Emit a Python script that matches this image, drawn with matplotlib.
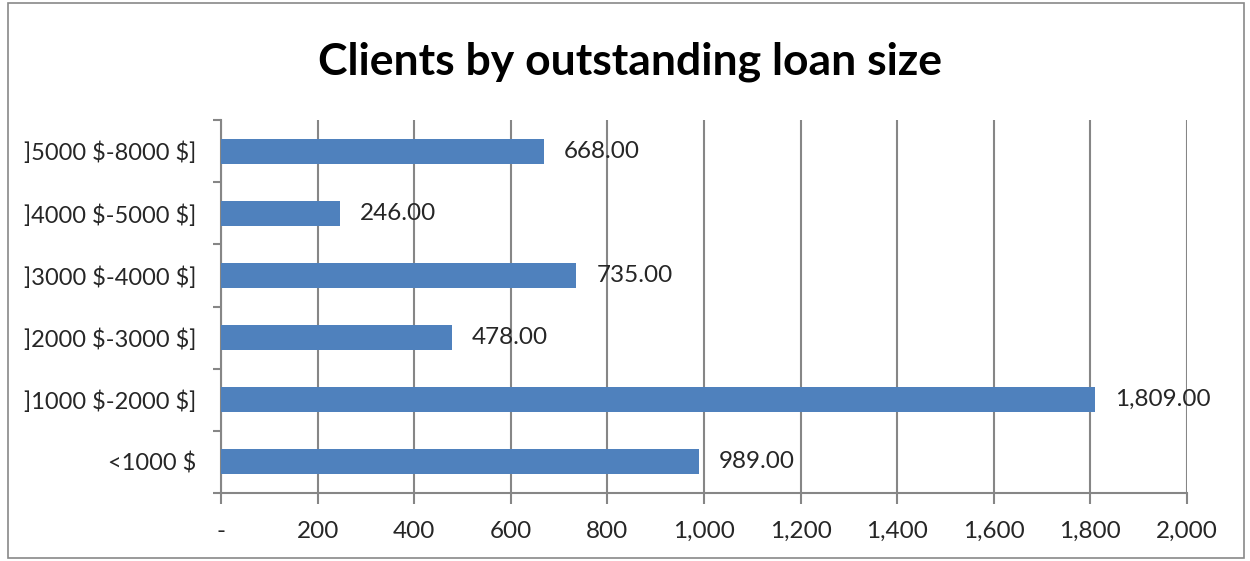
import matplotlib
matplotlib.use("Agg")
import matplotlib.pyplot as plt
from matplotlib.patches import Rectangle
import numpy as np

categories = ["<1000 $", "]1000 $-2000 $]", "]2000 $-3000 $]", "]3000 $-4000 $]", "]4000 $-5000 $]", "]5000 $-8000 $]"]
values = [989, 1809, 478, 735, 246, 668]
xticks = [0, 200, 400, 600, 800, 1000, 1200, 1400, 1600, 1800, 2000]
xticklabels = ["-", "200", "400", "600", "800", "1,000", "1,200", "1,400", "1,600", "1,800", "2,000"]
title = "Clients by outstanding loan size"

plt.rcParams['font.family'] = ['Lato', 'DejaVu Sans']
plt.rcParams['text.parse_math'] = False
text_color = '#262626'
grid_color = '#868686'
bar_color = '#4F81BD'
fs = 17.5

fig = plt.figure(figsize=(12.5, 5.61), dpi=100)
ax = fig.add_axes([221/1250, 1-493/561, (1187-221)/1250, (493-120)/561])

y = np.arange(len(categories))
ax.barh(y, values, height=0.4, color=bar_color, zorder=3)
for yi, v in zip(y, values):
    ax.text(v + 42, yi, f"{v:,.2f}", va='center', ha='left', fontsize=fs, color=text_color, zorder=4)

ax.set_xlim(0, 2000)
ax.set_ylim(-0.5, len(categories) - 0.5)
ax.set_xticks(xticks)
ax.set_xticklabels(xticklabels, fontsize=fs, color=text_color)
ax.set_yticks(y)
ax.set_yticklabels(categories, fontsize=17, color=text_color)
ax.tick_params(axis='y', which='major', length=0, pad=18)
ax.set_yticks(np.arange(-0.5, len(categories), 1.0), minor=True)
ax.tick_params(axis='y', which='minor', length=6, width=1.5, color=grid_color, direction='out')
ax.tick_params(axis='x', which='major', length=8, width=1.5, color=grid_color, direction='out', pad=12)
ax.grid(axis='x', color=grid_color, linewidth=1.5, zorder=0)
for s in ['top', 'right']:
    ax.spines[s].set_visible(False)
for s in ['left', 'bottom']:
    ax.spines[s].set_color(grid_color)
    ax.spines[s].set_linewidth(1.5)

fig.text(630/1250, 1-62/561, title, ha='center', va='center', fontsize=32, fontweight='bold', color='black')

fig.patches.append(Rectangle((8/1250, 3/561), 1236/1250, 555/561, transform=fig.transFigure,
                             fill=False, edgecolor='#898989', linewidth=1.2))

fig.savefig("out.png", dpi=100, facecolor='white')
